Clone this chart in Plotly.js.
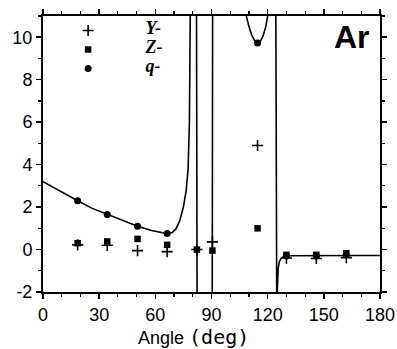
<!DOCTYPE html>
<html>
<head>
<meta charset="utf-8">
<script src="https://cdn.plot.ly/plotly-3.0.1.min.js"></script>
<style>html,body{margin:0;padding:0;background:#fff;}</style>
</head>
<body>
<div id="chart" style="width:397px;height:349px;"></div>
<script>
// Theory curve (q-), with breaks at the resonances
const curveAngle = [0, 4, 9, 18.5, 26, 34.3, 42, 50.5, 58, 63, 66.3, 69, 71, 73, 75, 76.5, 77.5, 78.2, 78.7, 79.1, null,
  81.7, 82.0, 82.3, 82.6, null,
  90.1, 90.4, 90.6, 90.8, null,
  108.2, 108.6, 110, 111.5, 113, 114.6, 116, 117.5, 119, 120, 120.5, null,
  124.2, 124.4, 124.7, 124.9, 125.1, 125.6, 126.3, 127.5, 129, 131, 140, 150, 160, 170, 180];
const curveValue = [3.2, 3.0, 2.75, 2.3, 1.95, 1.65, 1.38, 1.1, 0.9, 0.8, 0.75, 0.8, 0.97, 1.35, 2.0, 2.8, 3.8, 6, 11, 16, null,
  16, 11, -2, -5, null,
  -5, -2, 11, 16, null,
  12, 11, 10.5, 10.1, 9.85, 9.73, 9.8, 10.05, 10.5, 11, 12, null,
  16, 11, -2, -4, -2, -0.9, -0.55, -0.38, -0.32, -0.29, -0.28, -0.28, -0.28, -0.28, -0.28];

// Measured points
const obsAngle = [18.5, 34.3, 50.5, 66.3, 82.2, 90.5, 114.6, 130, 146, 162];
const yMinus = [0.22, 0.2, -0.05, -0.1, 0.0, 0.36, 4.9, -0.4, -0.42, -0.38];
const zMinus = [0.3, 0.38, 0.5, 0.22, 0.0, -0.05, 1.0, -0.25, -0.25, -0.17];
const qMinus = [2.3, 1.65, 1.1, 0.75, null, null, 9.73, -0.3, -0.3, -0.25];

const seriesNames = ['Y-', 'Z-', 'q-'];
const xTickVals = [0, 30, 60, 90, 120, 150, 180];
const yTickVals = [-2, 0, 2, 4, 6, 8, 10];
const panelLabel = 'Ar';
const xTitleMain = 'Angle';
const xTitleUnit = '(deg)';

function legendName(s) {
  return '<span style="font-size:18px">&nbsp;&nbsp;&nbsp;&nbsp;&nbsp;<b><i>' + s + '</i></b></span>';
}

const traces = [
  {x: curveAngle, y: curveValue, mode: 'lines', line: {color: 'black', width: 1.6}, showlegend: false, connectgaps: false, hoverinfo: 'skip'},
  {x: obsAngle, y: yMinus, mode: 'markers', name: legendName(seriesNames[0]),
   marker: {symbol: 'cross-thin', size: 8, color: 'black', line: {color: 'black', width: 1.6}}},
  {x: obsAngle, y: zMinus, mode: 'markers', name: legendName(seriesNames[1]),
   marker: {symbol: 'square', size: 6.5, color: 'black'}},
  {x: obsAngle, y: qMinus, mode: 'markers', name: legendName(seriesNames[2]),
   marker: {symbol: 'circle', size: 7, color: 'black'}}
];

const axisCommon = {
  showline: true, linecolor: 'black', linewidth: 2, mirror: 'ticks',
  ticks: 'outside', ticklen: 5, tickwidth: 1.5, tickcolor: 'black',
  showgrid: false, zeroline: false,
  tickfont: {family: 'Liberation Sans, Arial, sans-serif', size: 18, color: 'black'}
};

const layout = {
  width: 397, height: 349,
  margin: {l: 43, r: 17, t: 16, b: 56.5},
  paper_bgcolor: 'white', plot_bgcolor: 'white',
  font: {family: 'Liberation Sans, Arial, sans-serif', size: 18, color: 'black'},
  xaxis: Object.assign({}, axisCommon, {
    range: [0, 180], tickvals: xTickVals, ticktext: xTickVals.map(String),
    minor: {dtick: 10, tick0: 0, ticks: 'outside', ticklen: 3, tickwidth: 1.2, tickcolor: 'black', showgrid: false}
  }),
  yaxis: Object.assign({}, axisCommon, {
    range: [-2, 11], tickvals: yTickVals, ticktext: yTickVals.map(String),
    minor: {dtick: 1, tick0: 0, ticks: 'outside', ticklen: 3, tickwidth: 1.2, tickcolor: 'black', showgrid: false}
  }),
  showlegend: true,
  legend: {
    x: 0.03, y: 1.0, xanchor: 'left', yanchor: 'top',
    bgcolor: 'rgba(0,0,0,0)', borderwidth: 0,
    itemwidth: 60, tracegroupgap: 0,
    font: {family: 'Liberation Serif, Times New Roman, serif', size: 10, color: 'black'}
  },
  annotations: [
    {text: '<b>' + panelLabel + '</b>', xref: 'paper', yref: 'paper', x: 0.975, y: 0.996, xanchor: 'right', yanchor: 'top',
     showarrow: false, font: {family: 'Liberation Sans, Arial, sans-serif', size: 32, color: 'black'}},
    {text: xTitleMain + ' <span style="font-family:DejaVu Sans Mono, monospace;font-size:20px">' + xTitleUnit + '</span>',
     xref: 'paper', yref: 'paper', x: 0.448, y: -0.213, xanchor: 'center', yanchor: 'bottom',
     showarrow: false, font: {family: 'Liberation Sans, Arial, sans-serif', size: 18, color: 'black'}}
  ]
};

Plotly.newPlot('chart', traces, layout, {displayModeBar: false, staticPlot: true});
</script>
</body>
</html>
